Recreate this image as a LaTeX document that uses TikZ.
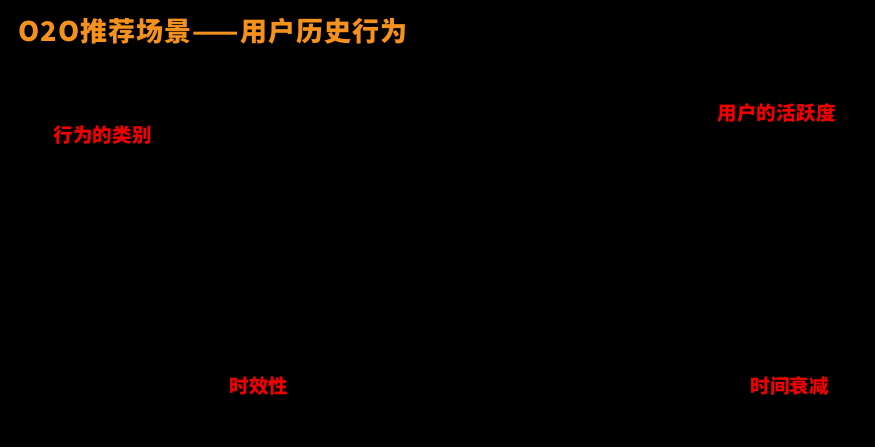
\documentclass[tikz,border=0pt]{standalone}
\usepackage{fontspec}
\newfontfamily\cjk{Noto Sans CJK SC}
\newfontfamily\cjktitle{Noto Sans CJK SC}[LetterSpace=4]
\newfontfamily\cjklabel{Noto Sans CJK SC}[LetterSpace=2]
\definecolor{titleorange}{HTML}{F5921E}
\definecolor{labelred}{HTML}{F00000}
\begin{document}
\begin{tikzpicture}[x=1pt,y=-1pt,
  titletext/.style={anchor=west,inner sep=0pt,text=titleorange,font=\cjktitle\bfseries\fontsize{27}{27}\selectfont},
  labeltext/.style={anchor=west,inner sep=0pt,text=labelred,font=\cjklabel\bfseries\fontsize{19.5}{19.5}\selectfont}]
\useasboundingbox (0,0) rectangle (875,447);
\fill[black] (0,0) rectangle (875,447);
\node[titletext] (title) at (18,31) {O2O推荐场景——用户历史行为};
\node[labeltext] (category) at (53,135) {行为的类别};
\node[labeltext] (activity) at (717,113) {用户的活跃度};
\node[labeltext] (timeliness) at (229,386) {时效性};
\node[labeltext] (decay) at (750,386) {时间衰减};
\end{tikzpicture}
\end{document}
